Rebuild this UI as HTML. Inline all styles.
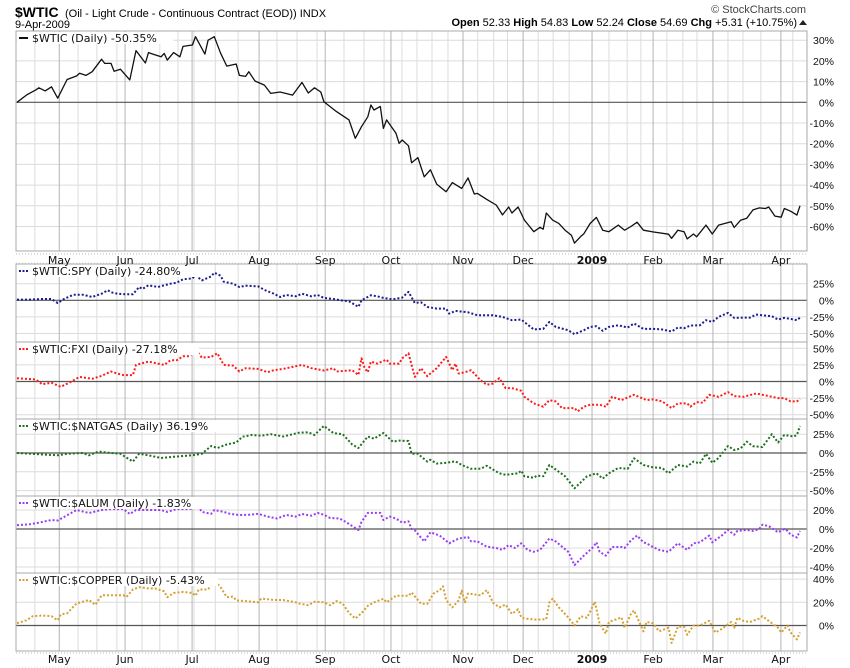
<!DOCTYPE html>
<html><head><meta charset="utf-8"><style>
html,body{margin:0;padding:0;background:#fff;width:850px;height:668px;overflow:hidden}
svg{display:block;font-family:"DejaVu Sans","Liberation Sans",sans-serif}
</style></head><body>
<svg id="chart" width="850" height="668" viewBox="0 0 850 668" xmlns="http://www.w3.org/2000/svg">
<g>
<text x="15" y="17" font-family="Liberation Sans, sans-serif" font-size="14" font-weight="bold">$WTIC</text>
<text x="65" y="17" font-family="Liberation Sans, sans-serif" font-size="11">(Oil - Light Crude - Continuous Contract (EOD)) INDX</text>
<text x="15" y="28" font-family="Liberation Sans, sans-serif" font-size="11">9-Apr-2009</text>
<text x="806" y="13" text-anchor="end" font-family="Liberation Sans, sans-serif" font-size="11" fill="#444">© StockCharts.com</text>
<text x="797" y="26" text-anchor="end" font-family="Liberation Sans, sans-serif" font-size="11"><tspan font-weight="bold">Open</tspan> 52.33 <tspan font-weight="bold">High</tspan> 54.83 <tspan font-weight="bold">Low</tspan> 52.24 <tspan font-weight="bold">Close</tspan> 54.69 <tspan font-weight="bold">Chg</tspan> +5.31 (+10.75%)</text>
<polygon points="799,25 807,25 803,20" fill="#222"/>
</g>
<g id="layer"></g>
</svg>
<script>
// shared x axis (trading-day index)
const monthLabels=["May","Jun","Jul","Aug","Sep","Oct","Nov","Dec","2009","Feb","Mar","Apr"];
const monthDays=[13.5,34.5,55.9,77.3,98.4,119.4,142.4,161.6,183.6,203.1,222.2,243.9];
const weekDays=[5.7,19.5,25.5,31.9,39.9,45.6,51.4,56.5,63.3,70.6,83,89.4,95.8,104.4,110.8,117.2,122.9,127.7,132.5,137.6,147.1,152.2,156.6,166.4,171.2,176.3,189,194.8,199.2,207.5,212.6,217.1,227,231.8,237.5,247.7];

const wticDays=[0,3,6,7,9,11,13,16,19,20,22,24,27,28,30,31,33,36,38,41,42,44,46,47,48,50,52,53,56,57,60,61,63,65,67,70,71,73,74,76,79,81,84,88,91,93,95,97,98,102,106,108,110,112,113,114,116,117,118,121,122,123,125,126,128,130,132,134,137,139,142,144,146,147,150,153,155,157,158,160,162,165,167,168,169,171,173,175,177,178,180,181,183,185,187,189,192,194,196,198,200,203,208,209,211,213,214,216,217,220,222,224,228,229,231,233,235,237,239,240,242,244,245,247,249,250];
const wticVals=[0,3.5,6,7,5.5,7.5,2,11,12.7,14,13,14.8,20.8,18.8,18.8,15,16,10.8,25,19,24,23,22,23.6,20.4,24,22,27,27.7,31.7,23.3,30,31.7,23.7,17.5,18.5,13,12.5,14.8,10.3,8.3,4.3,5,3.5,9.6,4.5,7,5,0.3,-4.5,-8.5,-17.4,-11.8,-7,-1.3,-3.7,-2,-12.6,-8.5,-15,-19.8,-18.2,-21,-29.2,-26.7,-36,-32.6,-39.5,-43.2,-38.8,-41.6,-36.5,-44.3,-44,-46.9,-49.6,-54.4,-50.6,-53.5,-50.6,-56.9,-62.5,-60.4,-61.3,-53.5,-56.9,-58.5,-61.8,-64.2,-68,-64.8,-63.5,-58.5,-55.6,-61.8,-62.5,-59.3,-61.8,-60,-57.9,-61.8,-62.6,-63.7,-65.7,-61.8,-62.5,-66,-63.6,-65,-59.3,-63.6,-59.3,-57.7,-60.5,-57,-56,-52,-51,-51.3,-50.6,-55,-55.5,-51.3,-52.6,-54.5,-50];

const spyDays=[0,4,8,11,13,15,18,21,24,27,29,30,32,35,37,39,40,42,45,47,49,51,53,56,57,59,62,63,65,66,69,71,73,77,79,82,84,86,89,91,94,96,98,101,104,106,109,110,113,115,117,120,123,125,127,129,131,134,137,138,140,144,147,150,152,155,158,161,165,168,170,172,176,178,181,183,185,187,189,192,195,197,200,203,206,209,211,213,215,218,220,222,224,227,229,232,234,236,239,241,243,245,247,249,250];
const spyVals=[1,1,2,2,-4,2,8.5,8.5,5,10,15,12,10,9,9,20,17,22.6,20,22.6,25,26.5,31.6,33,37.6,30,36,41.6,37,28,25,20,22,21,15.6,10,5,8,6,10,6,8,3.6,2,-0.5,-1.5,-10,0,7.6,6,3.6,1.5,4,12.6,-4,-3,-10,-12.5,-12.5,-20,-16,-18,-22.6,-22.6,-22.6,-25,-30,-29,-44,-43,-32.6,-40,-45,-51,-45,-40,-39,-46,-40,-37.6,-41,-35,-43,-43,-44,-47,-41,-42,-38,-37.6,-30,-32.6,-25,-19,-26.5,-26,-26,-21.6,-23,-24,-29,-26.5,-28,-30,-26];

const fxiDays=[0,6,8,11,14,17,20,24,27,30,32,34,37,38,42,45,47,49,51,53,55,57,59,62,64,66,69,71,73,77,80,82,85,88,91,94,98,101,102,107,109,110,111,112,113,115,118,119,122,123,125,127,129,131,132,134,137,139,140,141,143,145,148,150,152,154,156,158,161,162,165,168,170,172,174,178,179,181,183,186,188,190,193,197,198,201,203,206,209,211,214,215,217,219,221,224,227,229,232,236,239,243,245,247,249,250];
const fxiVals=[5,3,-4,-2,-8,-1,7,4,8.5,15,12,9.6,9.6,25,30,27,25,32,32,38,38,48.5,36,37,42.5,25,24,15,20,19,14,17,19,22,25,20,16.6,20,15,17,10,35,20,14,30,27,33,27,27,35,42.5,7,20,8,12,20,37,17,27,12,14,17,2,-5,-3,5,-10,-10,-14,-23,-33,-38,-28,-30,-40,-40,-45,-38,-35,-35,-38,-23,-28,-20,-22,-28,-27,-30,-40,-33,-33,-38,-31,-32,-20,-23,-16,-22,-23,-18,-21,-25,-25,-30,-30,-26];

const gasDays=[0,5,8,13,16,21,23,26,30,33,37,39,42,46,50,53,56,59,62,64,67,70,72,75,78,81,85,87,90,93,95,98,101,104,107,109,112,114,117,120,122,125,126,128,131,132,134,137,140,142,145,148,150,154,156,160,161,162,165,166,168,170,172,175,178,180,182,185,187,189,192,195,197,200,203,206,208,211,214,216,218,220,222,224,227,229,231,233,235,238,241,243,245,248,249,250];
const gasVals=[0,-1,-2,-3,-1,0,-3,2,0,-1,-11.5,-1,-3,-6.6,-5,-4,-3,-1,9.3,6.6,11.5,14,21.7,23.9,23,25,22,24,27,27.5,24,36,26.6,25,11.5,6.6,22,19,26.6,15,16.5,16,-1,-1,-11.5,-9,-14,-13,-11,-16,-21,-21,-17,-27,-29,-27,-23.5,-31,-33,-30,-31,-16,-22,-31,-47,-39,-31,-27,-34,-27,-20,-21,-7,-16,-19,-20,-27,-16,-18,-11.5,-14,-1,-13,-6.6,9.3,4,6,15,9,8,25,14,24,22,24,36];

const alumDays=[0,4,7,11,13,15,19,23,27,30,34,36,38,42,46,48,51,55,58,59,62,63,66,68,71,74,77,80,83,86,89,91,94,96,98,100,103,105,109,110,112,116,117,119,121,123,125,126,127,130,132,135,138,141,144,145,147,150,153,155,157,159,161,163,165,167,170,172,176,178,181,184,185,186,188,190,193,194,196,198,200,201,203,205,208,211,214,216,218,221,222,225,227,229,230,233,235,237,238,240,243,245,246,247,249,250];
const alumVals=[4,5,6.6,9.5,9,12.6,20,16.8,20,21,21,15.8,20,20,20,18,21,21,23,18,16,20,18,16,14.7,15,16,13,11,14.7,13,15.8,14,17,15,11.6,11,7.4,-1,7.4,17,17,9.5,13,11,6.6,8,0,-1.5,-13,-3.5,-7,-15,-10,-8.5,-13,-13,-18.6,-20,-22,-17,-20,-15,-22,-24,-22,-10,-13,-24,-38,-28,-19,-14,-24,-28,-19,-19,-20,-12,-7,-14,-15,-19,-22,-24,-15,-22,-15,-14,-7,-14,-7,-1,-6,-2,-1,-2,0,4.5,3,-3.5,0,-2,-6,-9,-2];

const copDays=[0,3,5,8,11,13,14,16,19,23,25,27,31,34,35,37,39,42,44,47,48,50,53,56,57,58,61,63,65,67,69,70,73,77,78,82,85,89,90,93,95,98,100,102,104,106,108,110,112,114,117,118,121,122,125,126,129,131,133,135,136,137,139,141,142,143,144,148,150,152,154,156,158,160,161,162,166,169,170,171,173,176,178,180,182,184,184.5,186,188,189,193,194,196,197,200,201,203,205,208,209,211,213,214,216,218,221,223,225,228,229,230,232,234,237,238,240,243,244,246,247,249,250];
const copVals=[2,4.5,8,8.6,8,4.5,9.5,10.5,19,22,17.8,26,26,26,24.7,31,33,32,32,29.5,24.4,28,29,28,25.6,31,31,39,33,24.4,25,21.6,21,20,23.3,22,22,20,19,17.5,20.5,20,17.5,21,19,10.8,6,10.6,17,20,23,20,25.6,25.6,25.6,28.5,18.7,18.7,27.6,30.5,33.8,22,15.6,21.6,30,20,27.6,26,30.5,19.6,15.6,18,10,14,7,6,5,5.5,20,23,15.6,7,0,8,6.6,17.5,20.5,1.5,-7,3,7,-2,10,13,-5,3,2,-5,-2,-15,-1,-1,-8,0,0,4,-6,-3,3,-2,6.6,4,3,6,8,4,-2,-6,0,-6,-12,-6];

const xL=16,xR=807,dayMax=250,plotRight=800;
function xScale(d){return 17+d*(plotRight-17)/dayMax;}
const svgNS="http://www.w3.org/2000/svg";
const layer=document.getElementById('layer');
function mk(tag,attrs,parent){const e=document.createElementNS(svgNS,tag);for(const k in attrs)e.setAttribute(k,attrs[k]);(parent||layer).appendChild(e);return e;}

const panels=[
 {key:"wtic",top:31,bottom:251,zero:102.3,k:2.07,ticks:[30,20,10,0,-10,-20,-30,-40,-50,-60],color:"#111",dash:null,legend:"$WTIC (Daily) -50.35%",days:wticDays,vals:wticVals},
 {key:"spy",top:264,bottom:342,zero:300.3,k:0.664,ticks:[25,0,-25,-50],color:"#1c1c8e",dash:"2 2",legend:"$WTIC:SPY (Daily) -24.80%",days:spyDays,vals:spyVals},
 {key:"fxi",top:342,bottom:419,zero:381.5,k:0.664,ticks:[50,25,0,-25,-50],color:"#ff1a1a",dash:"2 2",legend:"$WTIC:FXI (Daily) -27.18%",days:fxiDays,vals:fxiVals},
 {key:"natgas",top:419,bottom:496,zero:453,k:0.752,ticks:[25,0,-25,-50],color:"#1e701e",dash:"2 2",legend:"$WTIC:$NATGAS (Daily) 36.19%",days:gasDays,vals:gasVals},
 {key:"alum",top:496,bottom:573,zero:529,k:0.95,ticks:[20,0,-20,-40],color:"#9a3cf0",dash:"2 2",legend:"$WTIC:$ALUM (Daily) -1.83%",days:alumDays,vals:alumVals},
 {key:"copper",top:573,bottom:651,zero:625.5,k:1.16,ticks:[40,20,0],color:"#d4a030",dash:"2 2",legend:"$WTIC:$COPPER (Daily) -5.43%",days:copDays,vals:copVals}
];

panels.forEach(p=>{
  const y=v=>p.zero-v*p.k;
  const g=mk('g',{});
  
  
  mk('rect',{x:xL,y:p.top,width:xR-xL,height:p.bottom-p.top,fill:'#fff'},g);
  weekDays.forEach(d=>{const l=mk('line',{x1:xScale(d),x2:xScale(d),y1:p.top,y2:p.bottom,stroke:'#dcdcdc','stroke-width':1},g);
    
    });
  p.ticks.forEach(t=>{ if(t===0)return; const l=mk('line',{x1:xL,x2:xR,y1:y(t),y2:y(t),stroke:'#dcdcdc','stroke-width':1},g);
    
    });
  monthDays.forEach(d=>{const l=mk('line',{x1:xScale(d),x2:xScale(d),y1:p.top,y2:p.bottom,stroke:'#b4b4b4','stroke-width':1},g);
    
    });
  const z=mk('line',{x1:xL,x2:xR,y1:y(0),y2:y(0),stroke:'#555','stroke-width':1.2},g);
  
  
  mk('rect',{x:xL,y:p.top,width:xR-xL,height:p.bottom-p.top,fill:'none',stroke:'#a8a8a8','stroke-width':1},g);
  p.ticks.forEach(t=>{const tx=mk('text',{x:834,y:y(t)+4,'text-anchor':'end','font-size':10.5,'font-family':'Liberation Sans, sans-serif',fill:'#111'},g);tx.textContent=t+'%';
    
    });
  const pts=p.days.map((d,i)=>xScale(d).toFixed(1)+','+y(p.vals[i]).toFixed(1)).join(' ');
  const line=mk('polyline',{points:pts,fill:'none',stroke:p.color,'stroke-width':p.dash?2:1.3,'stroke-linejoin':'round'},g);
  if(p.dash)line.setAttribute('stroke-dasharray',p.dash);
  
  
  const lg=mk('g',{},g);
  
  
  const w=p.legend.length*6.4+22;
  mk('rect',{x:17,y:p.top+1,width:w,height:12,fill:'#fff'},lg);
  const sw=mk('line',{x1:19,x2:28,y1:p.top+7,y2:p.top+7,stroke:p.color,'stroke-width':2},lg);
  if(p.dash)sw.setAttribute('stroke-dasharray','2 1.5');
  const lt=mk('text',{x:32,y:p.top+11,'font-size':11,fill:'#111','font-family':'DejaVu Sans, sans-serif'},lg);
  lt.textContent=p.legend;
});

// month axis labels
[[252,264],[651,668]].forEach(([yb,yb2],ai)=>{
  const ax=mk('g',{});
  
  
  mk('line',{x1:xL,x2:xR,y1:yb+2,y2:yb+2,stroke:'#bbb','stroke-dasharray':'1 2'},ax);
  mk('line',{x1:xL,x2:xR,y1:yb2-1,y2:yb2-1,stroke:'#ddd','stroke-dasharray':'1 2'},ax);
  monthLabels.forEach((m,i)=>{const t=mk('text',{x:xScale(monthDays[i]),y:yb+12,'text-anchor':'middle','font-size':11,'font-family':'DejaVu Sans, sans-serif',fill:'#111'},ax);
    if(m==="2009")t.setAttribute('font-weight','bold');
    t.textContent=m;
    
    });
});
</script>
</body></html>
